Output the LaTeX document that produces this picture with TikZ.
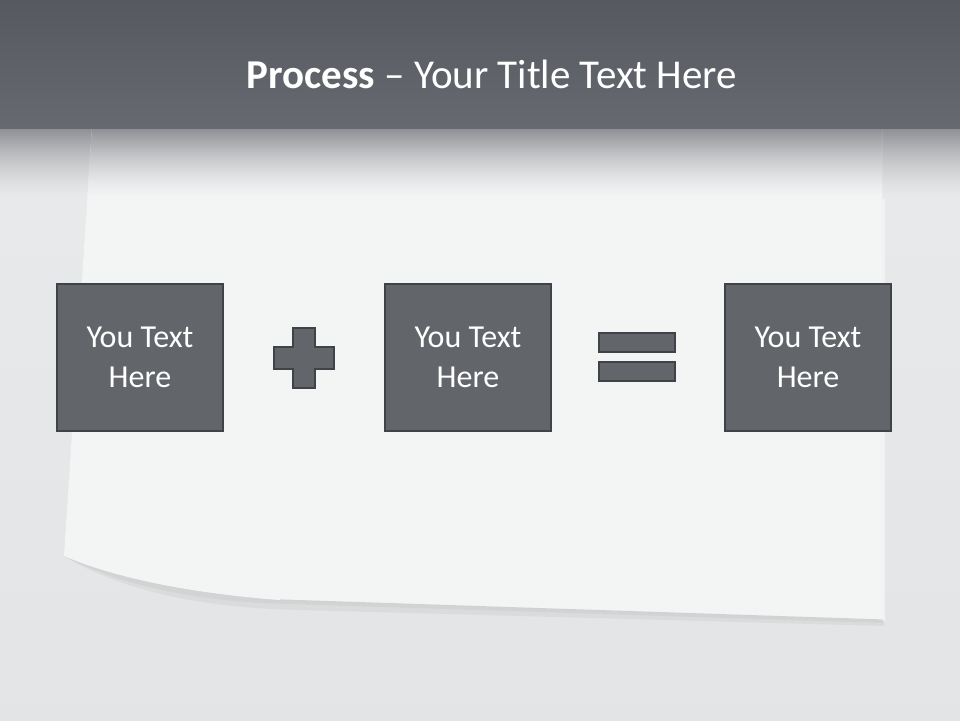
\documentclass[tikz,border=0pt]{standalone}
\usepackage{fontspec}
\setmainfont{Carlito}
\definecolor{bg}{HTML}{E8E9EA}
\definecolor{paper}{HTML}{F3F4F4}
\definecolor{hdrtop}{HTML}{4E5156}
\definecolor{hdrbot}{HTML}{6E7178}
\definecolor{darkband}{HTML}{8E9095}
\definecolor{boxfill}{HTML}{62656A}
\definecolor{boxline}{HTML}{3F4246}
\definecolor{shadow}{HTML}{D2D3D4}
\tikzset{
  textbox/.style={draw=boxline, line width=2pt, fill=boxfill, minimum width=166pt, minimum height=147pt,
    inner sep=0pt, text=white, align=center, font=\fontsize{32}{40}\selectfont},
  symbolshape/.style={draw=boxline, line width=2pt, fill=boxfill}
}
\begin{document}
\begin{tikzpicture}[x=1pt,y=-1pt]
\useasboundingbox (0,0) rectangle (960,720);
% background
\fill[bg] (0,0) rectangle (960,720);
\shade[top color=bg, bottom color=bg!98!black] (0,200) rectangle (960,720);
\fill[black!5] (882,128) rectangle (885,622);
% band below header (outside paper)
\foreach \i in {0,...,34} {
  \pgfmathsetmacro\p{100*(1-(1-\i/35)^1.5)}
  \fill[bg!\p!darkband] (0,128+2*\i) rectangle (960,130.6+2*\i);
}
% paper shadow under curl
\fill[shadow, opacity=0.5] (64,556) .. controls (120,590) and (200,608) .. (300,610) -- (884,626) -- (884,620) -- (280,600) .. controls (200,594) and (120,580) .. (64,556) -- cycle;
\fill[shadow] (64,556) .. controls (120,586) and (200,602) .. (290,604) -- (884,623) -- (882,620) -- (280,600) .. controls (200,594) and (120,580) .. (64,556) -- cycle;
% paper
\path[fill=paper] (92,128) -- (882,128) -- (882,620) -- (280,600) .. controls (200,594) and (120,580) .. (64,556) -- cycle;
\begin{scope}
\clip (92,128) -- (882,128) -- (882,620) -- (280,600) .. controls (200,594) and (120,580) .. (64,556) -- cycle;
\foreach \i in {0,...,34} {
  \pgfmathsetmacro\p{100*(1-(1-\i/35)^1.5)}
  \fill[paper!\p!darkband] (0,128+2*\i) rectangle (960,130.6+2*\i);
}
\end{scope}
\draw[black!18, line width=1.2pt] (882,620) -- (280,600);
% header
\begin{scope}
\clip (0,0) rectangle (960,128);
\shade[top color=hdrtop, bottom color=hdrbot] (0,-64) rectangle (960,192);
\end{scope}
\node[text=white, font=\fontsize{41}{48}\selectfont, anchor=base] (title) at (492,88) {\textbf{Process} – Your Title Text Here};
% boxes
\node[textbox] (b1) at (140,357.5) {You Text\\Here};
\node[textbox] (b2) at (468,357.5) {You Text\\Here};
\node[textbox] (b3) at (808,357.5) {You Text\\Here};
% plus
\draw[symbolshape] (293,328) -- (315,328) -- (315,347) -- (334,347) -- (334,369) -- (315,369) -- (315,388) -- (293,388) -- (293,369) -- (274,369) -- (274,347) -- (293,347) -- cycle;
% equals
\draw[symbolshape] (599,333) rectangle (675,352);
\draw[symbolshape] (599,362) rectangle (675,381);
\end{tikzpicture}
\end{document}
